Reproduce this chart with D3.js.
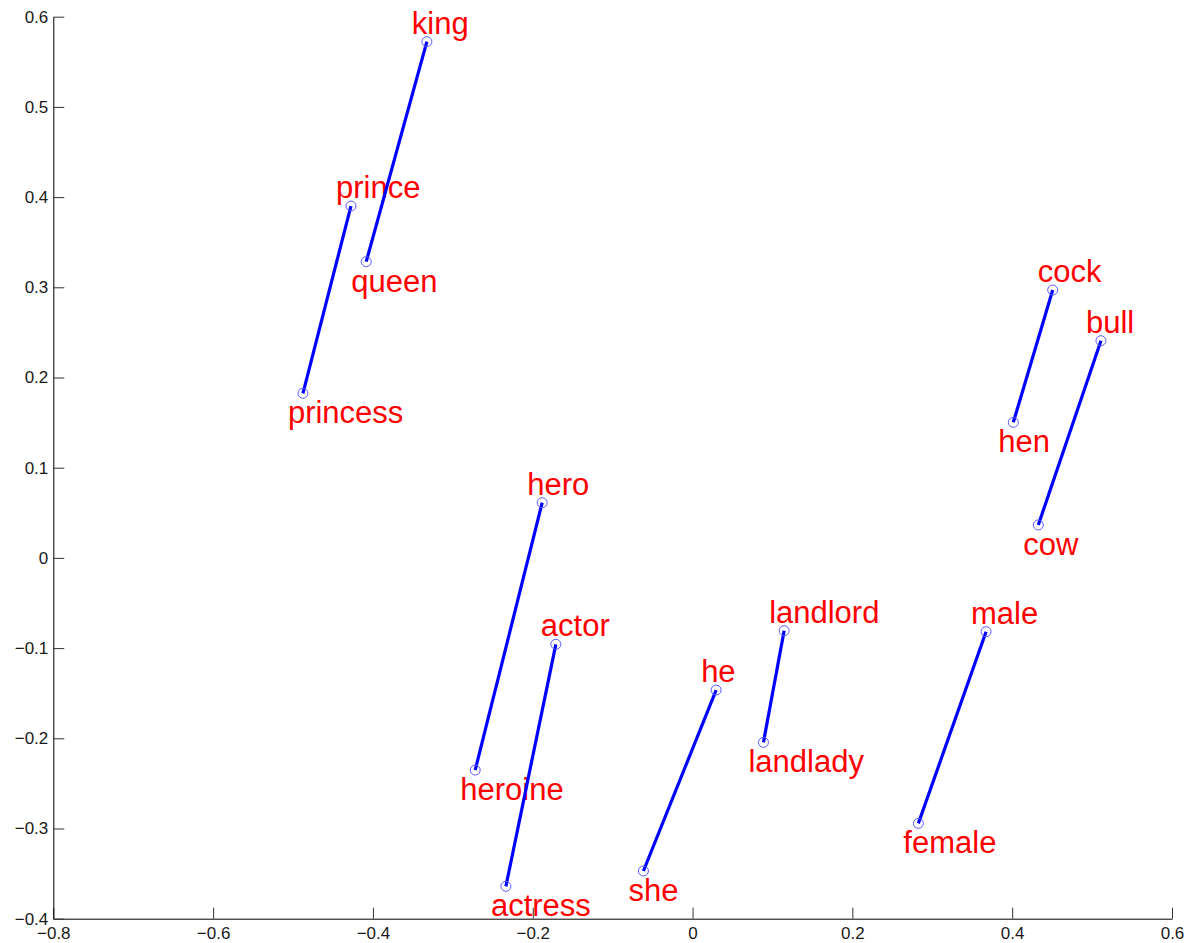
<!DOCTYPE html>
<html>
<head>
<meta charset="utf-8">
<script src="https://cdn.jsdelivr.net/npm/d3@7"></script>
<style>
  body { margin: 0; background: #fff; }
  svg { display: block; font-family: "Liberation Sans", Arial, Helvetica, sans-serif; }
</style>
</head>
<body>
<div id="chart"></div>
<script>
// Paires de mots (masculin / féminin) et leurs coordonnées projetées
const maleWords = ["king", "prince", "hero", "actor", "he", "landlord", "male", "cock", "bull"];
const maleX = [-0.3325, -0.4275, -0.1882, -0.1711, 0.0295, 0.1146, 0.3673, 0.4507, 0.5111];
const maleY = [0.5723, 0.3901, 0.0612, -0.0958, -0.1465, -0.0807, -0.0818, 0.2970, 0.2408];

const femaleWords = ["queen", "princess", "heroine", "actress", "she", "landlady", "female", "hen", "cow"];
const femaleX = [-0.4084, -0.4876, -0.2720, -0.2336, -0.0615, 0.0887, 0.2826, 0.4014, 0.4327];
const femaleY = [0.3284, 0.1825, -0.2352, -0.3641, -0.3471, -0.2045, -0.2943, 0.1503, 0.0365];

const xTicks = [-0.8, -0.6, -0.4, -0.2, 0, 0.2, 0.4, 0.6];
const yTicks = [-0.4, -0.3, -0.2, -0.1, 0, 0.1, 0.2, 0.3, 0.4, 0.5, 0.6];

const width = 1187;
const height = 943;

const svg = d3.select("#chart")
  .append("svg")
  .attr("width", width)
  .attr("height", height);

const x = d3.scaleLinear().domain([-0.8, 0.6]).range([53.3, 1172]);
const y = d3.scaleLinear().domain([-0.4, 0.6]).range([918.7, 16.7]);

const fmt = (d) => (d === 0 ? "0" : d3.format(".1f")(d));

// Axes (graduations vers l'intérieur, pas de cadre)
const xAxis = svg.append("g")
  .attr("transform", `translate(0, ${y(-0.4)})`)
  .call(d3.axisBottom(x).tickValues(xTicks).tickFormat(fmt).tickSizeInner(-11).tickSizeOuter(0).tickPadding(8));

const yAxis = svg.append("g")
  .attr("transform", `translate(${x(-0.8)}, 0)`)
  .call(d3.axisLeft(y).tickValues(yTicks).tickFormat(fmt).tickSizeInner(-11).tickSizeOuter(0).tickPadding(5));

[xAxis, yAxis].forEach((g) => {
  g.select(".domain").attr("stroke", "#000").attr("stroke-width", 1);
  g.selectAll(".tick line").attr("stroke", "#333");
  g.selectAll(".tick text")
    .attr("fill", "#1a1a1a")
    .style("font-size", "17px")
    .style("font-family", "Liberation Sans, Arial, sans-serif");
});

const pairs = maleWords.map((w, i) => ({
  male: { word: w, x: maleX[i], y: maleY[i] },
  female: { word: femaleWords[i], x: femaleX[i], y: femaleY[i] },
}));

// Étiquettes
const labels = svg.append("g")
  .style("font-size", "31px")
  .attr("fill", "#ff0000");

labels.selectAll("text.m")
  .data(pairs)
  .enter()
  .append("text")
  .attr("class", "m")
  .attr("x", (d) => x(d.male.x) - 15)
  .attr("y", (d) => y(d.male.y) - 8)
  .text((d) => d.male.word);

labels.selectAll("text.f")
  .data(pairs)
  .enter()
  .append("text")
  .attr("class", "f")
  .attr("x", (d) => x(d.female.x) - 15)
  .attr("y", (d) => y(d.female.y) + 30)
  .text((d) => d.female.word);

// Segments
svg.append("g")
  .selectAll("line")
  .data(pairs)
  .enter()
  .append("line")
  .attr("x1", (d) => x(d.male.x))
  .attr("y1", (d) => y(d.male.y))
  .attr("x2", (d) => x(d.female.x))
  .attr("y2", (d) => y(d.female.y))
  .attr("stroke", "#0000ff")
  .attr("stroke-width", 3.2);

// Cercles aux extrémités
const points = pairs.flatMap((d) => [d.male, d.female]);
svg.append("g")
  .selectAll("circle")
  .data(points)
  .enter()
  .append("circle")
  .attr("cx", (d) => x(d.x))
  .attr("cy", (d) => y(d.y))
  .attr("r", 5)
  .attr("fill", "none")
  .attr("stroke", "#5a5aff")
  .attr("stroke-width", 1);
</script>
</body>
</html>
